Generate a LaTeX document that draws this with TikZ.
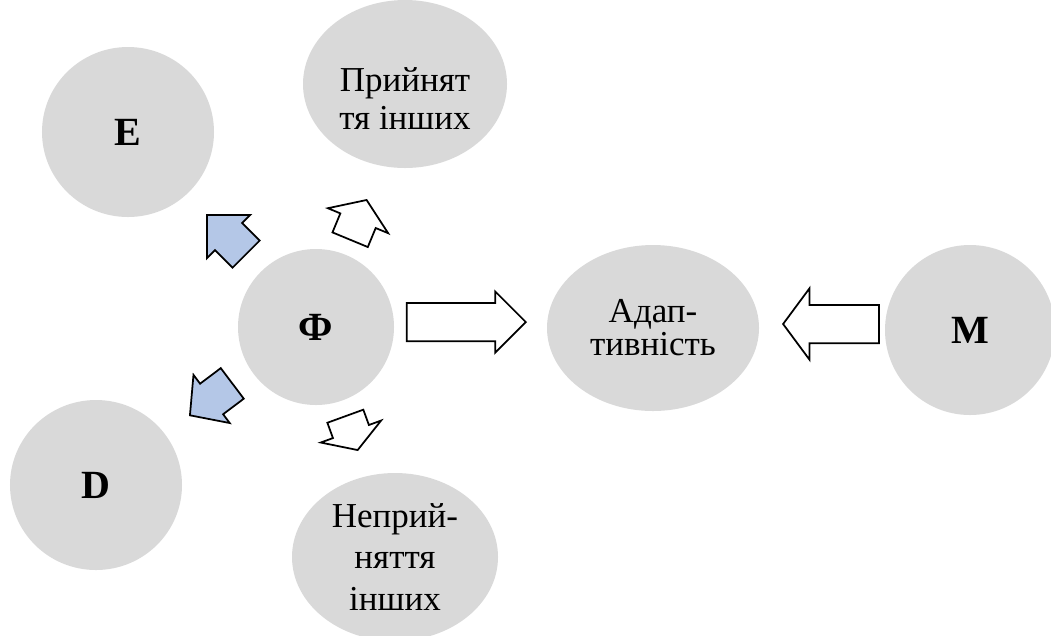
\documentclass[tikz,border=0pt]{standalone}
\usepackage{fontspec}
\setmainfont{Liberation Serif}
\usepackage{xcolor}
\usetikzlibrary{shapes.geometric,shapes.arrows}
\definecolor{circgray}{RGB}{217,217,217}
\definecolor{arrblue}{RGB}{180,199,231}

\begin{document}
\begin{tikzpicture}[
	x=0.4pt, y=-0.4pt,
	font=\fontsize{14}{14.4}\selectfont,
	% Style cho các hình tròn
	mycircle/.style={ellipse, fill=circgray, inner sep=0pt, align=center},
	letter/.style={font=\fontsize{16}{16}\selectfont\bfseries},
	% Style cho mũi tên khối (width = ngang, height = dài)
	blockarrow/.style={
		single arrow, draw=black, line width=0.7pt,
		inner xsep=0pt, inner ysep=7.3pt, anchor=tip
	},
	whitearrow/.style={blockarrow, fill=white},
	bluearrow/.style={blockarrow, fill=arrblue}
	]
	\useasboundingbox (0,0) rectangle (1051,635);
	
	% --- CÁC HÌNH TRÒN ---
	\node[mycircle, letter, minimum width=68.8pt, minimum height=68pt] (circE) at (128,132) {E};
	\node[mycircle, minimum width=81.6pt, minimum height=67.2pt] (circAcc) at (405,84) {};
	\node[align=center, font=\fontsize{14}{15.2}\selectfont] (txtAcc) at (405,99) {Прийнят\\тя інших};
	\node[mycircle, letter, minimum width=62.4pt, minimum height=62.4pt] (circF) at (316,327) {Ф};
	\node[mycircle, minimum width=84.8pt, minimum height=66.4pt, font=\fontsize{14}{13.2}\selectfont] (circAd) at (653,328) {Адап-\\тивність};
	\node[mycircle, letter, minimum width=68pt, minimum height=68pt] (circM) at (970,330) {M};
	\node[mycircle, letter, minimum width=68.8pt, minimum height=68pt] (circD) at (96,485) {D};
	\node[mycircle, minimum width=82.4pt, minimum height=67.2pt, font=\fontsize{14}{16.4}\selectfont] (circNon) at (395,557) {Неприй-\\няття\\інших};
	
	% --- MŨI TÊN LỚN ---
	\node[whitearrow, minimum width=24pt, minimum height=47.6pt,
		single arrow head extend=4.6pt, single arrow tip angle=90] (arrFA) at (527,322) {};
	\node[whitearrow, rotate=180, minimum width=28pt, minimum height=38.4pt,
		single arrow head extend=6.6pt, single arrow tip angle=107] (arrMA) at (782,324) {};
	
	% --- MŨI TÊN NHỎ QUANH Ф ---
	\node[whitearrow, rotate=67.5, minimum width=25.2pt, minimum height=17.2pt,
		single arrow head extend=5.4pt, single arrow tip angle=111] (arrAcc) at (367,199) {};
	\node[whitearrow, rotate=-70, minimum width=24.8pt, minimum height=14.4pt,
		single arrow head extend=5.2pt, single arrow tip angle=117] (arrNon) at (358,451) {};
	\node[bluearrow, rotate=135, minimum width=23.6pt, minimum height=22.2pt,
		single arrow head extend=4.6pt, single arrow tip angle=90] (arrE) at (206,214) {};
	\node[bluearrow, rotate=217, minimum width=24pt, minimum height=21.2pt,
		single arrow head extend=4.4pt, single arrow tip angle=96] (arrD) at (189,416) {};
	
\end{tikzpicture}
\end{document}
